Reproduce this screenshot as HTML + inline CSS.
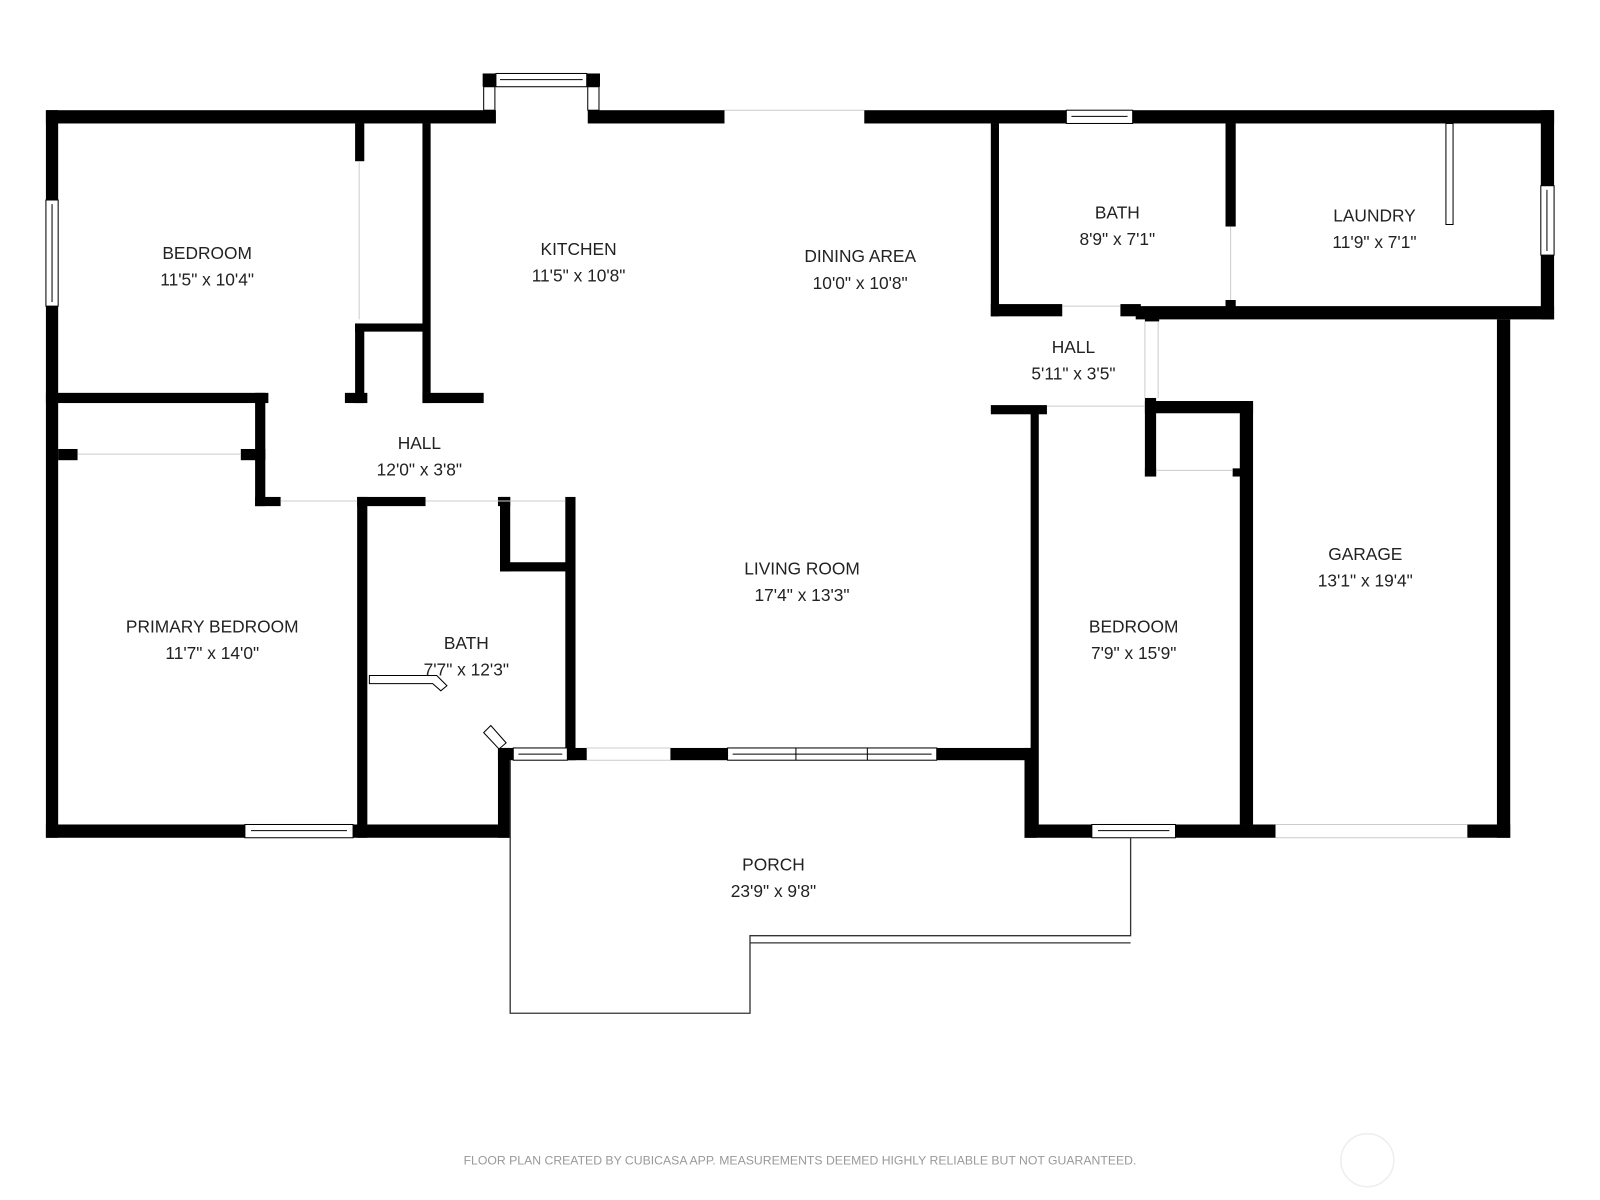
<!DOCTYPE html>
<html><head><meta charset="utf-8"><style>
html,body{margin:0;padding:0;background:#fff;width:1600px;height:1200px;overflow:hidden}
svg{display:block}
text{font-family:"Liberation Sans",sans-serif;fill:#222;text-anchor:middle}
.l{font-size:17px}
</style></head><body>
<svg width="1600" height="1200" viewBox="0 0 1568 1176" preserveAspectRatio="none" xmlns="http://www.w3.org/2000/svg">
<g fill="#000">
<rect x="45" y="108" width="441" height="13"/>
<rect x="576" y="108" width="134" height="13"/>
<rect x="847" y="108" width="676" height="13"/>
<rect x="473" y="72" width="13" height="13"/><rect x="575" y="72" width="13" height="13"/>
<rect x="45" y="108" width="12" height="713"/>
<rect x="45" y="808" width="455" height="13"/>
<rect x="488" y="733" width="12" height="88"/>
<rect x="488" y="733" width="87" height="12"/>
<rect x="657" y="733" width="56" height="12"/>
<rect x="918" y="733" width="92" height="12"/>
<rect x="1004" y="733" width="12" height="88"/>
<rect x="1004" y="808" width="246" height="13"/>
<rect x="1438" y="808" width="42" height="13"/>
<rect x="1467" y="313" width="13" height="508"/>
<rect x="1510" y="108" width="13" height="205"/>
<rect x="1113" y="300" width="410" height="13"/>
<rect x="971" y="121" width="8" height="189"/>
<rect x="971" y="298" width="70" height="12"/>
<rect x="1098" y="298" width="20" height="12"/>
<rect x="1201" y="121" width="10" height="101"/>
<rect x="1201" y="294" width="10" height="10"/>
<rect x="1122" y="305" width="14" height="10"/>
<rect x="971" y="397" width="55" height="9"/>
<rect x="1122" y="393" width="106" height="12"/>
<rect x="1010" y="400" width="8" height="408"/>
<rect x="1122" y="390" width="11" height="77"/>
<rect x="1122" y="459" width="11" height="8"/><rect x="1208" y="459" width="8" height="8"/>
<rect x="1215" y="393" width="13" height="415"/>
<rect x="348" y="121" width="9" height="37"/>
<rect x="348" y="317" width="72" height="8"/>
<rect x="348" y="317" width="9" height="78"/>
<rect x="414" y="121" width="8" height="274"/>
<rect x="45" y="385" width="218" height="10"/>
<rect x="338" y="385" width="22" height="10"/>
<rect x="414" y="385" width="60" height="10"/>
<rect x="250" y="385" width="10" height="111"/>
<rect x="57" y="440" width="19" height="11"/>
<rect x="236" y="440" width="24" height="11"/>
<rect x="250" y="487" width="25" height="9"/>
<rect x="350" y="487" width="67" height="9"/>
<rect x="488" y="487" width="12" height="9"/>
<rect x="350" y="487" width="10" height="334"/>
<rect x="490" y="487" width="10" height="73"/>
<rect x="490" y="551" width="70" height="9"/>
<rect x="554" y="487" width="10" height="258"/>
</g>
<g fill="#fff" stroke="#000" stroke-width="1">
<rect x="486" y="72" width="89" height="13"/><line x1="490" y1="78" x2="571" y2="78"/>
<rect x="474" y="85" width="11" height="23"/><rect x="576" y="85" width="11" height="23"/>
<rect x="1045" y="108" width="65" height="13"/><line x1="1050" y1="114" x2="1105" y2="114"/>
<rect x="45" y="196" width="12" height="104"/><line x1="51" y1="200" x2="51" y2="296"/>
<rect x="1510" y="182" width="13" height="68"/><line x1="1516" y1="186" x2="1516" y2="246"/>
<rect x="240" y="808" width="106" height="13"/><line x1="246" y1="814" x2="340" y2="814"/>
<rect x="1070" y="808" width="82" height="13"/><line x1="1076" y1="814" x2="1146" y2="814"/>
<rect x="503" y="733" width="53" height="12"/><line x1="508" y1="739" x2="551" y2="739"/>
<rect x="713" y="733" width="205" height="12"/><line x1="718" y1="739" x2="913" y2="739"/>
<line x1="780" y1="733" x2="780" y2="745"/><line x1="850" y1="733" x2="850" y2="745"/>
<rect x="1417" y="121" width="7" height="99"/>
<path d="M362 662 L428 662 L438 672 L432 677 L424 670 L362 670 Z"/>
<path d="M474 718 L481 711 L496 728 L489 734 Z"/>
</g>
<g stroke="#ccc" stroke-width="1" fill="none">
<line x1="710" y1="108" x2="847" y2="108"/>
<line x1="352" y1="158" x2="352" y2="313"/>
<line x1="76" y1="445" x2="236" y2="445"/>
<line x1="275" y1="491" x2="350" y2="491"/>
<line x1="417" y1="491" x2="554" y2="491"/>
<line x1="575" y1="733" x2="657" y2="733"/><line x1="575" y1="745" x2="657" y2="745"/>
<line x1="1250" y1="808" x2="1438" y2="808"/><line x1="1250" y1="821" x2="1438" y2="821"/>
<line x1="1041" y1="300" x2="1098" y2="300"/>
<line x1="1206" y1="222" x2="1206" y2="294"/>
<line x1="1122" y1="315" x2="1122" y2="390"/><line x1="1135" y1="315" x2="1135" y2="390"/>
<line x1="1133" y1="461" x2="1208" y2="461"/>
<line x1="1026" y1="398" x2="1122" y2="398"/>
</g>
<g stroke="#333" stroke-width="1.3" fill="none">
<path d="M500 745 L500 993 L735 993 L735 917 L1108 917 L1108 821"/>
<line x1="735" y1="924" x2="1108" y2="924"/>
</g>
<g class="l">
<text x="203" y="254" class="l">BEDROOM</text><text x="203" y="280" class="l">11'5" x 10'4"</text>
<text x="567" y="250" class="l">KITCHEN</text><text x="567" y="276" class="l">11'5" x 10'8"</text>
<text x="843" y="257" class="l">DINING AREA</text><text x="843" y="283" class="l">10'0" x 10'8"</text>
<text x="1095" y="214" class="l">BATH</text><text x="1095" y="240" class="l">8'9" x 7'1"</text>
<text x="1347" y="217" class="l">LAUNDRY</text><text x="1347" y="243" class="l">11'9" x 7'1"</text>
<text x="1052" y="346" class="l">HALL</text><text x="1052" y="372" class="l">5'11" x 3'5"</text>
<text x="411" y="440" class="l">HALL</text><text x="411" y="466" class="l">12'0" x 3'8"</text>
<text x="208" y="620" class="l">PRIMARY BEDROOM</text><text x="208" y="646" class="l">11'7" x 14'0"</text>
<text x="457" y="636" class="l">BATH</text><text x="457" y="662" class="l">7'7" x 12'3"</text>
<text x="786" y="563" class="l">LIVING ROOM</text><text x="786" y="589" class="l">17'4" x 13'3"</text>
<text x="1111" y="620" class="l">BEDROOM</text><text x="1111" y="646" class="l">7'9" x 15'9"</text>
<text x="1338" y="549" class="l">GARAGE</text><text x="1338" y="575" class="l">13'1" x 19'4"</text>
<text x="758" y="853" class="l">PORCH</text><text x="758" y="879" class="l">23'9" x 9'8"</text>
</g>
<text x="784" y="1141" style="font-size:12px;fill:#999">FLOOR PLAN CREATED BY CUBICASA APP. MEASUREMENTS DEEMED HIGHLY RELIABLE BUT NOT GUARANTEED.</text>
<circle cx="1340" cy="1137" r="26" fill="none" stroke="#eee" stroke-width="1.5"/>
</svg>
</body></html>
